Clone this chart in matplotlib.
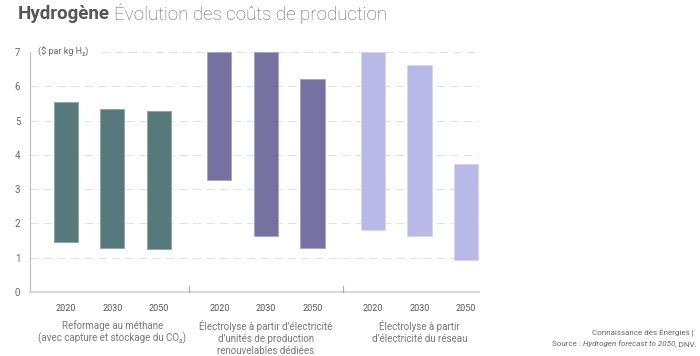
import matplotlib
matplotlib.use('Agg')
import matplotlib.pyplot as plt

plt.rcParams['font.family'] = ['Roboto', 'DejaVu Sans']

# data
years = ['2020', '2030', '2050']
groups = ["Reformage au méthane\n(avec capture et stockage du CO₂)",
          "Électrolyse à partir d’électricité\nd’unités de production\nrenouvelables dédiées",
          "Électrolyse à partir\nd’électricité du réseau"]
smr_low = [1.45, 1.27, 1.25]
smr_high = [5.53, 5.33, 5.28]
renew_low = [3.26, 1.64, 1.29]
renew_high = [7.0, 7.0, 6.20]
grid_low = [1.80, 1.64, 0.92]
grid_high = [7.0, 6.62, 3.72]
colors = ['#567a7c', '#7572a2', '#b8b9e9']
edges = ['#8aa5a6', '#a6a3cb', '#d6d6f4']
yticks = [0, 1, 2, 3, 4, 5, 6, 7]

fig = plt.figure(figsize=(7, 3.56), dpi=100)
ax = fig.add_axes([30/700, 1-292/356, 449/700, 240/356])

gap = 3.3
lows = [smr_low, renew_low, grid_low]
highs = [smr_high, renew_high, grid_high]

for t in yticks[1:]:
    x0 = -0.77
    if t == 7:
        x0 = 0.75
    ax.plot([x0, 8.88], [t, t], color='#e2e2e2', lw=0.75, ls=(0, (8, 5)), zorder=0)

for g in range(3):
    xs = [g*gap + i for i in range(3)]
    heights = [h - l for h, l in zip(highs[g], lows[g])]
    ax.bar(xs, heights, bottom=lows[g], width=0.52, color=colors[g],
           edgecolor=edges[g], linewidth=0.6, zorder=2)
    for x, yr in zip(xs, years):
        ax.text(x, -0.47, yr, ha='center', va='center', fontsize=6.5,
                color='#555555', clip_on=False)
    lines = groups[g].split('\n')
    for k, line in enumerate(lines):
        ax.text(g*gap + 1, -0.99 - k*0.37, line, ha='center', va='center',
                fontsize=7, color='#777777', clip_on=False)

# group separators
for sx in [2.65, 5.95]:
    ax.plot([sx, sx], [0, 0.17], color='#aaaaaa', lw=0.8, zorder=3, clip_on=False)

ax.set_xlim(-0.77, 8.88)
ax.set_ylim(0, 7)
ax.set_yticks(yticks)
ax.set_xticks([])
ax.tick_params(axis='y', length=0, pad=7, labelsize=7, labelcolor='#666666')
for s in ['top', 'right']:
    ax.spines[s].set_visible(False)
ax.spines['left'].set_color('#bbbbbb')
ax.spines['left'].set_linewidth(0.8)
ax.spines['bottom'].set_color('#d9d9d9')
ax.spines['bottom'].set_linewidth(1.6)

ax.text(-0.6, 7, '($ par kg H₂)', ha='left', va='center', fontsize=6.5,
        color='#666666')

# title
r = fig.canvas.get_renderer()
t1 = fig.text(18/700, 1-14/356, 'Hydrogène', fontsize=13.5, fontweight='bold',
              color='#555555', va='center', ha='left')
bb = t1.get_window_extent(renderer=r)
fig.text((bb.x1 + 4)/700, 1-14/356, 'Évolution des coûts de production',
         fontsize=13.5, fontweight='light', color='#666666', va='center', ha='left')

# source
fig.text(694/700, 1-333/356, 'Connaissance des Énergies |', fontsize=5.8,
         color='#666666', ha='right', va='center')
s3 = fig.text(697/700, 1-344/356, ', DNV.', fontsize=5.8, color='#666666',
              ha='right', va='center')
b3 = s3.get_window_extent(renderer=r)
s2 = fig.text(b3.x0/700, 1-344/356, 'Hydrogen forecast to 2050', fontsize=5.8,
              style='italic', color='#666666', ha='right', va='center')
b2 = s2.get_window_extent(renderer=r)
fig.text(b2.x0/700, 1-344/356, 'Source : ', fontsize=5.8, color='#666666',
         ha='right', va='center')

fig.savefig('out.png', dpi=100)
